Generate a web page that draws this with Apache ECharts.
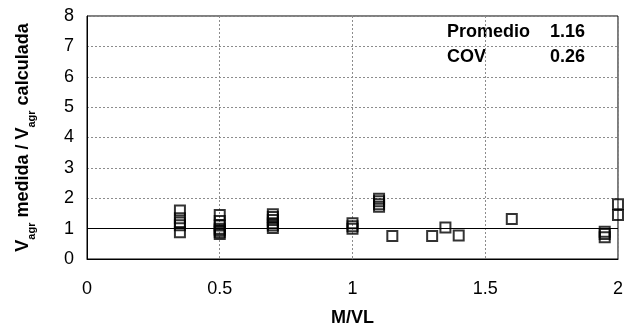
<!DOCTYPE html>
<html>
<head>
<meta charset="utf-8">
<script src="https://cdn.jsdelivr.net/npm/echarts@6/dist/echarts.min.js"></script>
<style>
  html, body { margin: 0; padding: 0; background: #fff; }
  #chart { width: 626px; height: 332px; }
</style>
</head>
<body>
<div id="chart"></div>
<script>
// M/VL ratio of each specimen and measured / computed shear ratio
var mvl = [
  0.35, 0.35, 0.35, 0.35, 0.35,
  0.5, 0.5, 0.5, 0.5, 0.5, 0.5, 0.5,
  0.7, 0.7, 0.7, 0.7, 0.7, 0.7,
  1.0, 1.0, 1.0,
  1.1, 1.1, 1.1, 1.1,
  1.15, 1.3, 1.35, 1.4, 1.6,
  1.95, 1.95, 1.95,
  2.0, 2.0
];
var ratio = [
  1.60, 1.34, 1.20, 1.11, 0.88,
  1.45, 1.25, 1.10, 1.00, 0.95, 0.88, 0.82,
  1.47, 1.38, 1.28, 1.18, 1.10, 1.02,
  1.18, 1.08, 1.00,
  1.98, 1.90, 1.80, 1.72,
  0.76, 0.76, 1.04, 0.77, 1.32,
  0.90, 0.82, 0.72,
  1.80, 1.45
];
var xTicks = [0, 0.5, 1, 1.5, 2];
var yTicks = [0, 1, 2, 3, 4, 5, 6, 7, 8];
var statNames = ['Promedio', 'COV'];
var statValues = ['1.16', '0.26'];

var points = mvl.map(function (x, i) { return [x, ratio[i]]; });

var chart = echarts.init(document.getElementById('chart'));
var font = 'Liberation Sans, Arial, sans-serif';

// Summary statistics block in the upper right of the plot
var statText = [];
statNames.forEach(function (n, i) {
  statText.push({
    type: 'text', x: 447, y: 32 + i * 25,
    style: { text: n, font: 'bold 18px ' + font, fill: '#000', textVerticalAlign: 'middle' }
  });
  statText.push({
    type: 'text', x: 585, y: 32 + i * 25,
    style: { text: statValues[i], font: 'bold 18px ' + font, fill: '#000', textAlign: 'right', textVerticalAlign: 'middle' }
  });
});

chart.setOption({
  animation: false,
  grid: { left: 87, right: 2, top: 16, bottom: 72, show: true, borderColor: '#000', borderWidth: 1 },
  xAxis: {
    type: 'value', min: xTicks[0], max: xTicks[xTicks.length - 1], interval: 0.5,
    name: 'M/VL', nameLocation: 'middle', nameGap: 50,
    nameTextStyle: { fontFamily: font, fontWeight: 'bold', fontSize: 18, color: '#000' },
    axisLine: { show: true, onZero: false, lineStyle: { color: '#000', width: 1 } },
    axisTick: { show: false },
    axisLabel: { fontFamily: font, fontSize: 18, color: '#000', margin: 21 },
    splitLine: { show: true, lineStyle: { color: '#8c8c8c', type: [2, 2], width: 1 } }
  },
  yAxis: {
    type: 'value', min: yTicks[0], max: yTicks[yTicks.length - 1], interval: 1,
    name: '{v|V}{s|agr}{v| medida / V}{s|agr}{v| calculada}',
    nameLocation: 'middle', nameGap: 55, nameRotate: 90,
    nameTextStyle: {
      rich: {
        v: { fontFamily: font, fontWeight: 'bold', fontSize: 18, color: '#000', lineHeight: 22, verticalAlign: 'bottom' },
        s: { fontFamily: font, fontWeight: 'bold', fontSize: 11, color: '#000', lineHeight: 13, verticalAlign: 'bottom', padding: [0, 0, -5, 0] }
      }
    },
    axisLine: { show: true, lineStyle: { color: '#000', width: 1 } },
    axisTick: { show: false },
    axisLabel: { fontFamily: font, fontSize: 18, color: '#000', margin: 13 },
    splitLine: { show: true, lineStyle: { color: '#8c8c8c', type: [2, 2], width: 1 } }
  },
  graphic: statText,
  series: [{
    type: 'scatter',
    data: points,
    symbol: 'rect',
    symbolSize: 10,
    clip: false,
    itemStyle: { color: 'rgba(0,0,0,0)', borderColor: '#000', borderWidth: 2 },
    markLine: {
      silent: true, symbol: 'none', label: { show: false },
      lineStyle: { color: '#000', type: 'solid', width: 1 },
      data: [{ yAxis: 1 }]
    }
  }]
});
</script>
</body>
</html>
